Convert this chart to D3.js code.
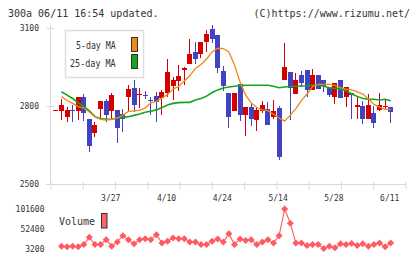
<!DOCTYPE html>
<html>
<head>
<meta charset="utf-8">
<script src="https://cdn.jsdelivr.net/npm/d3@7"></script>
<style>
body { margin: 0; background: #fff; }
svg { display: block; font-family: "DejaVu Sans Mono", monospace; }
</style>
</head>
<body>
<svg width="420" height="259"></svg>
<script>
// day -1 is the single-price first day, then 60 trading days
var days = d3.range(-1, 60);
var opens  = [2785,2782,2759,2786,2782,2833,2750,2697,2787,2819,2781,2785,2769,2836,2869,2843,2844,2825,2838,2829,2850,2878,2897,2940,2963,3007,2999,3047,3096,3073,2935,2849,2781,2884,2765,2795,2746,2781,2788,2758,2792,2901,2932,2846,2919,2938,2862,2919,2900,2874,2833,2900,2833,2850,2798,2800,2750,2774,2785,2797,2797];
var highs  = [2785,2826,2797,2804,2833,2846,2750,2740,2819,2826,2850,2785,2787,2881,2900,2870,2858,2836,2855,2862,2981,2910,2958,2951,3058,3046,3045,3092,3112,3073,2955,2849,2849,2884,2795,2810,2791,2819,2815,2823,2800,3043,2932,2928,2935,2938,2942,2919,2900,2874,2888,2900,2874,2850,2838,2819,2846,2800,2850,2823,2797];
var lows   = [2785,2746,2740,2740,2746,2742,2624,2682,2749,2738,2746,2658,2701,2780,2777,2791,2827,2765,2740,2765,2836,2823,2858,2880,2963,2960,2983,3006,3042,2928,2859,2717,2781,2742,2686,2723,2704,2773,2727,2751,2592,2901,2746,2846,2872,2836,2862,2867,2855,2833,2809,2832,2797,2750,2750,2731,2750,2717,2781,2783,2736];
var closes = [2785,2804,2785,2784,2833,2772,2646,2726,2819,2767,2842,2717,2749,2865,2804,2846,2841,2821,2817,2855,2932,2900,2915,2946,3000,2981,3045,3077,3058,2947,2877,2759,2849,2765,2795,2750,2785,2804,2727,2780,2602,2951,2871,2900,2890,2862,2919,2867,2878,2842,2888,2832,2874,2844,2803,2750,2804,2736,2804,2800,2778];
var volumes = [null,8900,7400,8900,7400,13000,31000,13000,13000,25300,8900,19700,35200,25300,14800,25300,27800,25300,37600,17200,21200,29500,27800,27800,19700,19700,13000,13000,21200,27000,19700,40100,13000,27000,22900,25300,13000,19700,25300,17200,35200,101600,66400,17200,17200,10600,13000,13000,3200,8900,4900,14800,13000,15500,10600,14800,8900,13000,17200,7400,17200];
var ma5  = [null,2836,2821,2810,2798,2792,2777,2758,2749,2746,2749,2754,2765,2779,2781,2783,2792,2812,2818,2831,2844,2865,2875,2896,2917,2944,2960,2981,3008,3022,3021,3008,2958,2892,2842,2812,2794,2785,2782,2768,2754,2742,2765,2790,2821,2846,2875,2883,2883,2883,2879,2871,2865,2862,2854,2846,2827,2806,2796,2787,2787];
var ma25 = [null,2855,2842,2829,2812,2798,2781,2759,2752,2749,2750,2753,2756,2759,2764,2769,2776,2780,2785,2794,2804,2810,2813,2814,2814,2823,2829,2838,2852,2862,2869,2873,2876,2878,2880,2880,2880,2880,2880,2876,2870,2873,2875,2876,2877,2878,2880,2880,2876,2870,2868,2865,2860,2846,2837,2829,2826,2826,2823,2826,2820];

var priceTicks = [2500, 2800, 3100];
var volTicks = [3200, 52400, 101600];
var dateLabels = ['3/27', '4/10', '4/24', '5/14', '5/28', '6/11'];
var dateDays = [9, 19, 29, 39, 49, 59];

var upColor = '#d40000';
var downColor = '#4343c2';
var gridColor = '#d9d9d9';
var ma5Color = '#ee8a12';
var ma25Color = '#14a51e';
var volColor = '#ff5a5f';

var svg = d3.select('svg');

var x = d3.scaleLinear().domain([0, 59]).range([61.5, 390.7]);
var y = d3.scaleLinear().domain([2500, 3100]).range([184, 28]);
var yv = d3.scaleLinear().domain([3200, 101600]).range([248.5, 209]);

// title
svg.append('text').attr('x', 8).attr('y', 16.7).attr('font-size', 10).attr('fill', '#333')
	.text('300a 06/11 16:54 updated.');
svg.append('text').attr('x', 410).attr('y', 16.7).attr('font-size', 10).attr('fill', '#333')
	.attr('text-anchor', 'end').text('(C)https://www.rizumu.net/');

// price axis
var gy = svg.append('g').attr('transform', 'translate(50.5,0)')
	.call(d3.axisLeft(y).tickValues(priceTicks).tickSize(4).tickPadding(7.5).tickFormat(d3.format('d')));
gy.attr('font-family', null).attr('font-size', 8);
gy.select('.domain').remove();
gy.selectAll('.tick line').attr('x1', -4).attr('x2', 4).attr('stroke', gridColor);
gy.selectAll('.tick text').attr('fill', '#333');
svg.append('line').attr('x1', 50.5).attr('x2', 50.5).attr('y1', 25).attr('y2', 184)
	.attr('stroke', gridColor);

// bottom axis with evenly spaced marks
var gridX = d3.scaleLinear().domain([0, 11]).range([50.5, 405.5]);
var gx = svg.append('g').attr('transform', 'translate(0,184.5)')
	.call(d3.axisBottom(gridX).tickValues(d3.range(12)).tickSize(5).tickFormat(''));
gx.select('.domain').remove();
gx.selectAll('.tick line').attr('y1', -3).attr('stroke', gridColor);
svg.append('line').attr('x1', 46).attr('x2', 406).attr('y1', 184.5).attr('y2', 184.5)
	.attr('stroke', gridColor);

svg.append('g').selectAll('text')
	.data(dateLabels)
	.enter()
	.append('text')
	.attr('x', function (d, i) { return x(dateDays[i]) - 1; })
	.attr('y', 201)
	.attr('font-size', 8)
	.attr('fill', '#333')
	.attr('text-anchor', 'middle')
	.text(function (d) { return d; });

// candles
var candles = svg.append('g').attr('shape-rendering', 'crispEdges');
var cg = candles.selectAll('g')
	.data(days)
	.enter()
	.append('g')
	.attr('fill', function (d, i) { return closes[i] >= opens[i] ? upColor : downColor; })
	.attr('stroke', function (d, i) { return closes[i] >= opens[i] ? upColor : downColor; });

cg.append('line')
	.attr('x1', function (d) { return x(d); })
	.attr('x2', function (d) { return x(d); })
	.attr('y1', function (d, i) { return y(highs[i]); })
	.attr('y2', function (d, i) { return y(lows[i]); });

cg.append('rect')
	.attr('stroke', 'none')
	.attr('x', function (d) { return x(d) - 2.5; })
	.attr('width', 5)
	.attr('y', function (d, i) { return y(Math.max(opens[i], closes[i])); })
	.attr('height', function (d, i) {
		return Math.max(1, Math.abs(y(opens[i]) - y(closes[i])));
	});

// moving averages
function maLine(arr) {
	return d3.line()
		.defined(function (d, i) { return arr[i] != null; })
		.x(function (d) { return x(d); })
		.y(function (d, i) { return y(arr[i]); });
}
svg.append('path').attr('d', maLine(ma25)(days)).attr('fill', 'none')
	.attr('stroke', ma25Color).attr('stroke-width', 1.6);
svg.append('path').attr('d', maLine(ma5)(days)).attr('fill', 'none')
	.attr('stroke', ma5Color).attr('stroke-width', 1.3);

// legend
svg.append('rect').attr('x', 65.5).attr('y', 30.5).attr('width', 78).attr('height', 47)
	.attr('fill', '#fff').attr('stroke', '#dedede').attr('stroke-width', 1.5);
svg.append('text').attr('x', 76).attr('y', 49.3).attr('font-size', 10.5).attr('fill', '#333')
	.attr('textLength', 39.7).attr('lengthAdjust', 'spacingAndGlyphs').text('5-day MA');
svg.append('text').attr('x', 70).attr('y', 66.7).attr('font-size', 10.5).attr('fill', '#333')
	.attr('textLength', 45.7).attr('lengthAdjust', 'spacingAndGlyphs').text('25-day MA');
svg.append('rect').attr('x', 131.5).attr('y', 37.5).attr('width', 6).attr('height', 14)
	.attr('fill', ma5Color).attr('stroke', '#333');
svg.append('rect').attr('x', 131.5).attr('y', 54.5).attr('width', 6).attr('height', 14)
	.attr('fill', ma25Color).attr('stroke', '#333');

// volume
var gv = svg.append('g').attr('transform', 'translate(44.5,0)')
	.call(d3.axisLeft(yv).tickValues(volTicks).tickSize(0).tickPadding(0).tickFormat(d3.format('d')));
gv.attr('font-family', null).attr('font-size', 8);
gv.select('.domain').remove();
gv.selectAll('.tick text').attr('fill', '#333');

var volLine = d3.line()
	.defined(function (d, i) { return volumes[i] != null; })
	.x(function (d) { return x(d); })
	.y(function (d, i) { return yv(volumes[i]); });
svg.append('path').attr('d', volLine(days)).attr('fill', 'none')
	.attr('stroke', volColor).attr('stroke-width', 1.1);

svg.append('g').selectAll('path')
	.data(days.filter(function (d, i) { return volumes[i] != null; }))
	.enter()
	.append('path')
	.attr('d', 'M0,-3.5L3.5,0L0,3.5L-3.5,0Z')
	.attr('fill', volColor)
	.attr('transform', function (d) {
		return 'translate(' + x(d) + ',' + yv(volumes[d + 1]) + ')';
	});

svg.append('text').attr('x', 59).attr('y', 225).attr('font-size', 10).attr('fill', '#333')
	.text('Volume');
svg.append('rect').attr('x', 101.5).attr('y', 213.5).attr('width', 5.5).attr('height', 14.5)
	.attr('fill', '#ff6363').attr('stroke', '#333');
</script>
</body>
</html>
